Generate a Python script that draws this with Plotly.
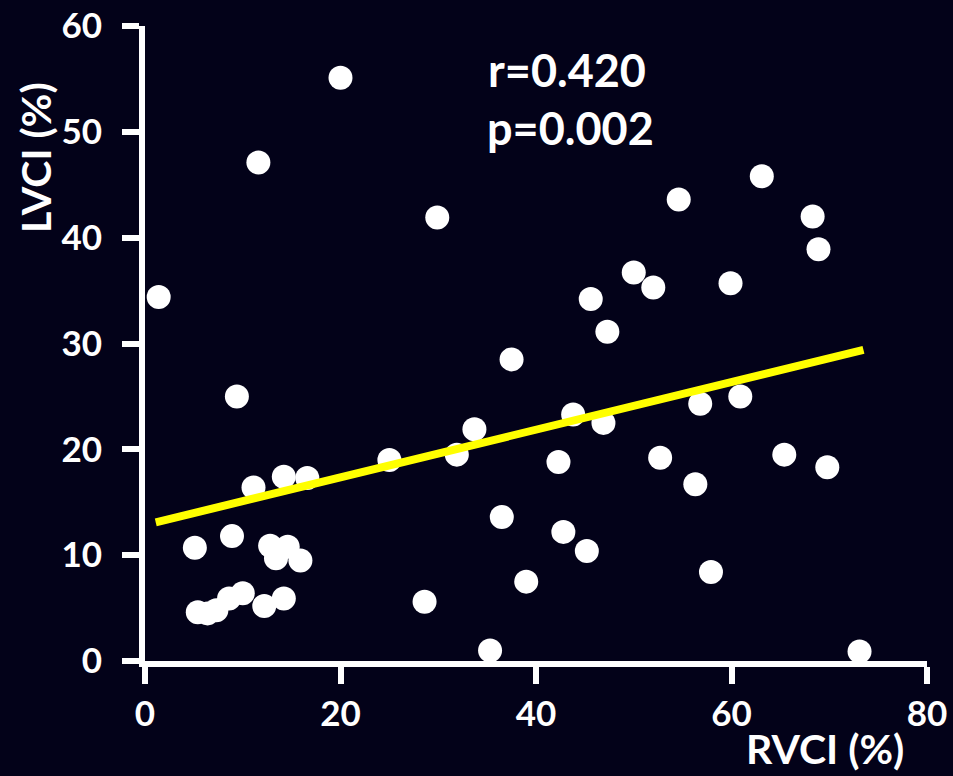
import plotly.graph_objects as go

# RVCI (%) values (x) and LVCI (%) values (y)
rvci = [1.4, 20.0, 11.6, 29.9, 9.4, 11.1, 14.2, 16.6, 25.0, 8.9,
        5.1, 12.8, 14.6, 13.4, 15.9, 5.4, 6.4, 7.3, 8.6, 10.0,
        12.2, 14.2, 28.6, 35.3, 31.9, 33.7, 36.5, 37.5, 39.0, 42.3,
        42.8, 43.8, 45.2, 45.6, 47.3, 46.9, 50.0, 52.0, 52.7, 54.6,
        56.3, 56.8, 57.9, 59.9, 60.9, 63.1, 65.4, 68.3, 68.9, 69.8,
        73.1]
lvci = [34.4, 55.1, 47.1, 41.9, 25.0, 16.4, 17.4, 17.3, 19.0, 11.8,
        10.7, 10.9, 10.8, 9.7, 9.5, 4.6, 4.5, 4.8, 5.9, 6.4,
        5.2, 5.9, 5.6, 1.0, 19.5, 21.9, 13.6, 28.5, 7.5, 18.8,
        12.2, 23.3, 10.4, 34.2, 31.1, 22.5, 36.7, 35.3, 19.2, 43.6,
        16.7, 24.3, 8.4, 35.7, 25.0, 45.8, 19.5, 42.0, 38.9, 18.3,
        0.9]

# regression line end points
fit_x = [1.1, 73.5]
fit_y = [13.1, 29.4]

x_ticks = [0, 20, 40, 60, 80]
y_ticks = [0, 10, 20, 30, 40, 50, 60]

stats_text = ["r=0.420", "p=0.002"]
x_title = "RVCI (%)"
y_title = "LVCI (%)"

BG = "#030219"
FONT = "Lato"

L, R, T, B = 145, 26, 26, 115
W, H = 953, 776
pw, ph = W - L - R, H - T - B


def px_to_paper(px, py):
    return (px - L) / pw, (H - B - py) / ph


fig = go.Figure()
fig.add_trace(go.Scatter(
    x=rvci, y=lvci, mode="markers",
    marker=dict(color="white", size=24, line=dict(width=0)),
    cliponaxis=False, showlegend=False, hoverinfo="skip"))
fig.add_trace(go.Scatter(
    x=fit_x, y=fit_y, mode="lines",
    line=dict(color="#ffff00", width=8),
    cliponaxis=False, showlegend=False, hoverinfo="skip"))

axis_common = dict(
    showgrid=False, zeroline=False, showline=True, linecolor="white",
    linewidth=6, ticks="outside", tickcolor="white", tickwidth=6, ticklen=17,
    automargin=False,
    tickfont=dict(family=FONT, size=35, color="white", weight="bold"),
)

stat_font = dict(family=FONT, size=45, color="white", weight="bold")
title_font = dict(family=FONT, size=41, color="white", weight="bold")

ax1, ay1 = px_to_paper(567, 70)
ax2, ay2 = px_to_paper(570, 128)
tx, ty = px_to_paper(825, 748)
lx, ly = px_to_paper(35, 158)

fig.update_layout(
    width=W, height=H,
    paper_bgcolor=BG, plot_bgcolor=BG,
    margin=dict(l=L, r=R, t=T, b=B, autoexpand=False),
    xaxis=dict(range=[0, 80], tickvals=x_ticks, **axis_common),
    yaxis=dict(range=[0, 60], tickvals=y_ticks, ticklabelstandoff=13, **axis_common),
    annotations=[
        dict(x=ax1, y=ay1, xref="paper", yref="paper", text=stats_text[0], showarrow=False,
             xanchor="center", yanchor="middle", font=stat_font),
        dict(x=ax2, y=ay2, xref="paper", yref="paper", text=stats_text[1], showarrow=False,
             xanchor="center", yanchor="middle", font=stat_font),
        dict(x=tx, y=ty, xref="paper", yref="paper", text=x_title, showarrow=False,
             xanchor="center", yanchor="middle", font=title_font),
        dict(x=lx, y=ly, xref="paper", yref="paper", text=y_title, showarrow=False,
             xanchor="center", yanchor="middle", textangle=-90, font=title_font),
    ],
)

fig.write_html("out.html", config={"displayModeBar": False},
               post_script="document.body.style.margin='0';")
